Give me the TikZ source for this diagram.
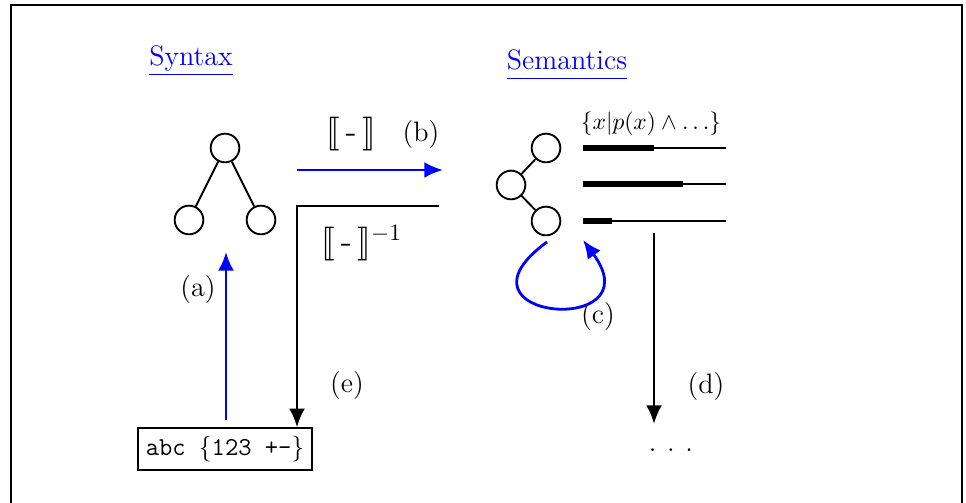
\documentclass[tikz,border=0pt]{standalone}
\usepackage{amsmath,amssymb}
\usepackage{stmaryrd}
\usetikzlibrary{arrows.meta}

\begin{document}
\begin{tikzpicture}[x=0.15mm,y=-0.15mm,font=\large,
  knot/.style={circle,draw=black,line width=0.8pt,minimum size=4.3mm,inner sep=0pt},
  tip/.style={-{Latex[length=2.8mm,width=2.4mm]}}]
  \useasboundingbox (0,0) rectangle (966,503);
  \draw[line width=1.1pt] (11,503) -- (11,5) -- (962,5) -- (962,503);
  % headings
  \node[text=blue] (syn) at (191,61) {\underline{Syntax\vphantom{p}}};
  \node[text=blue] (sem) at (567,65) {\underline{Semantics\vphantom{p}}};
  % syntax tree
  \node[knot] (st) at (225,148) {};
  \node[knot] (sl) at (189,220) {};
  \node[knot] (sr) at (261,220) {};
  \draw[line width=0.8pt] (st) -- (sl);
  \draw[line width=0.8pt] (st) -- (sr);
  % semantics tree
  \node[knot] (mt) at (546,148) {};
  \node[knot] (mm) at (511,185) {};
  \node[knot] (mb) at (546,221) {};
  \draw[line width=0.8pt] (mm) -- (mt);
  \draw[line width=0.8pt] (mm) -- (mb);
  % denotations
  \node[font=\normalsize] (set) at (651,124) {$\{x|p(x)\wedge\ldots\}$};
  \draw[line width=0.8pt] (583,148) -- (726,148);
  \draw[line width=0.8pt] (583,184) -- (726,184);
  \draw[line width=0.8pt] (583,221) -- (726,221);
  \draw[line width=2.2pt] (583,148) -- (654,148);
  \draw[line width=2.2pt] (583,184) -- (683,184);
  \draw[line width=2.2pt] (583,221) -- (612,221);
  % concrete syntax
  \node[draw=black,line width=0.9pt,font=\fontsize{11}{13}\selectfont,minimum width=26mm,minimum height=6.2mm,inner sep=1pt] (src) at (225,449) {\texttt{abc $\{$123 +-$\}$}};
  % (a)
  \coordinate (a0) at (226,420);
  \coordinate (a1) at (226,252);
  \draw[blue,line width=1.2pt,tip] (a0) -- (a1);
  \node (la) at (198,289) {(a)};
  % (b)
  \coordinate (b0) at (297,170);
  \coordinate (b1) at (443,170);
  \draw[blue,line width=1.2pt,tip] (b0) -- (b1);
  \node (den) at (351,134) {\Large$\llbracket\,\text{-}\,\rrbracket$};
  \node (lb) at (421,134) {(b)};
  % (c)
  \coordinate (c0) at (547,242);
  \coordinate (c1) at (583,240);
  \draw[blue,line width=1.2pt,tip] (c0) .. controls (440,320) and (655,338) .. (c1);
  \node (lc) at (598,316) {(c)};
  % (d)
  \coordinate (d0) at (654,233);
  \coordinate (d1) at (654,424);
  \draw[line width=1.2pt,tip] (d0) -- (d1);
  \node (ld) at (706,386) {(d)};
  \node (dots) at (671,450) {.\hspace{1.6mm}.\hspace{1.6mm}.};
  % (e)
  \coordinate (e0) at (439,206);
  \coordinate (e1) at (297,206);
  \draw[line width=1.2pt,tip] (e0) -- (e1) -- (e1 |- src.north);
  \node (inv) at (362,243) {\Large$\llbracket\,\text{-}\,\rrbracket^{-1}$};
  \node (le) at (347,385) {(e)};
\end{tikzpicture}
\end{document}
